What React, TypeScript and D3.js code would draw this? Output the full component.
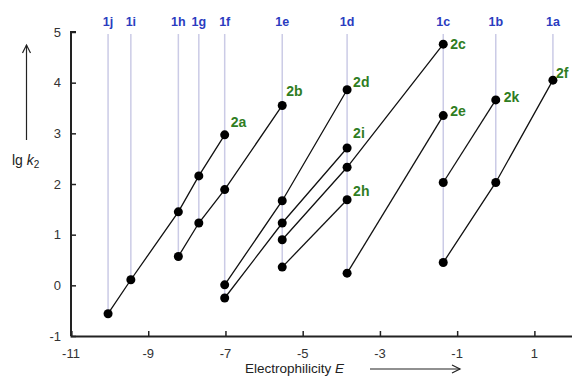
import React, { useRef, useEffect } from "react";
import * as d3 from "d3";

// electrophiles (benzhydrylium ions) and their E parameters
const electrophiles = ["1j", "1i", "1h", "1g", "1f", "1e", "1d", "1c", "1b", "1a"];
const eValues = [-10.04, -9.45, -8.22, -7.69, -7.02, -5.53, -3.85, -1.36, 0.0, 1.48];

// lg k2 for each nucleophile, as [electrophile, lg k2]
const lg2a: [string, number][] = [["1j", -0.56], ["1i", 0.11], ["1h", 1.45], ["1g", 2.16], ["1f", 2.97]];
const lg2b: [string, number][] = [["1h", 0.57], ["1g", 1.23], ["1f", 1.89], ["1e", 3.55]];
const lg2c: [string, number][] = [["1e", 0.9], ["1d", 2.33], ["1c", 4.76]];
const lg2d: [string, number][] = [["1f", 0.01], ["1e", 1.67], ["1d", 3.86]];
const lg2e: [string, number][] = [["1d", 0.24], ["1c", 3.35]];
const lg2f: [string, number][] = [["1c", 0.45], ["1b", 2.03], ["1a", 4.05]];
const lg2h: [string, number][] = [["1e", 0.36], ["1d", 1.69]];
const lg2i: [string, number][] = [["1f", -0.25], ["1e", 1.23], ["1d", 2.71]];
const lg2k: [string, number][] = [["1c", 2.03], ["1b", 3.66]];

const nucleophiles = ["2a", "2b", "2c", "2d", "2e", "2f", "2h", "2i", "2k"];
const seriesValues = [lg2a, lg2b, lg2c, lg2d, lg2e, lg2f, lg2h, lg2i, lg2k];

const xTicks = [-11, -9, -7, -5, -3, -1, 1];
const yTicks = [-1, 0, 1, 2, 3, 4, 5];

function App() {
  const holder = useRef<HTMLDivElement>(null);

  function drawChart() {
    const [width, height] = [572, 376];
    const eOf = (name: string) => eValues[electrophiles.indexOf(name)];

    const x = d3.scaleLinear().domain([-11, 2]).range([71, 573]);
    const y = d3.scaleLinear().domain([-1, 5]).range([336, 32]);

    d3.select(holder.current).selectAll("*").remove();
    const svg = d3
      .select(holder.current)
      .append("svg")
      .attr("width", width)
      .attr("height", height)
      .attr("viewBox", [0, 0, width, height])
      .style("display", "block")
      .style("font-family", "Liberation Sans, Arial, sans-serif");

    // vertical guide lines for each electrophile
    const allPoints = seriesValues.flat();
    const lowest = electrophiles.map((name) =>
      d3.min(allPoints.filter((p) => p[0] === name), (p) => p[1]) as number
    );
    svg
      .append("g")
      .attr("stroke", "#cbcbe6")
      .attr("stroke-width", 1.5)
      .selectAll("line")
      .data(electrophiles)
      .join("line")
      .attr("x1", (_, i) => x(eValues[i]))
      .attr("x2", (_, i) => x(eValues[i]))
      .attr("y1", y(5) + 2)
      .attr("y2", (_, i) => y(lowest[i]));

    svg
      .append("g")
      .attr("fill", "#2a3cc0")
      .attr("font-weight", "bold")
      .attr("font-size", 12.5)
      .attr("text-anchor", "middle")
      .selectAll("text")
      .data(electrophiles)
      .join("text")
      .attr("x", (_, i) => x(eValues[i]))
      .attr("y", 26)
      .text((d) => d);

    // axes
    const gx = svg.append("g").attr("transform", `translate(0,${y(-1)})`);
    gx.call(d3.axisTop(x).tickValues(xTicks).tickSize(5));
    gx.selectAll("text").remove();
    gx.append("g")
      .selectAll("text")
      .data(xTicks)
      .join("text")
      .attr("x", (d) => x(d))
      .attr("y", 22)
      .attr("text-anchor", "middle")
      .attr("font-size", 13)
      .attr("fill", "#333")
      .text((d) => String(d));

    const gy = svg.append("g").attr("transform", `translate(${x(-11)},0)`);
    gy.call(d3.axisRight(y).tickValues(yTicks).tickSize(5));
    gy.selectAll("text").remove();
    gy.append("g")
      .selectAll("text")
      .data(yTicks)
      .join("text")
      .attr("x", -10)
      .attr("y", (d) => y(d) + 4.5)
      .attr("text-anchor", "end")
      .attr("font-size", 13)
      .attr("fill", "#333")
      .text((d) => String(d));

    svg.selectAll(".domain").attr("stroke", "#222").attr("stroke-width", 2);
    svg.selectAll(".tick line").attr("stroke", "#222").attr("stroke-width", 1.5);
    gy.select(".domain").attr("d", `M5,${y(5)}H0V${y(-1)}`);

    // series lines and dots
    const line = d3
      .line<[string, number]>()
      .x((p) => x(eOf(p[0])))
      .y((p) => y(p[1]));

    svg
      .append("g")
      .attr("fill", "none")
      .attr("stroke", "#111")
      .attr("stroke-width", 1.3)
      .selectAll("path")
      .data(seriesValues)
      .join("path")
      .attr("d", (d) => line(d));

    svg
      .append("g")
      .attr("fill", "#000")
      .selectAll("circle")
      .data(allPoints)
      .join("circle")
      .attr("cx", (p) => x(eOf(p[0])))
      .attr("cy", (p) => y(p[1]))
      .attr("r", 4.5);

    // nucleophile labels next to the top point
    const labelShift: Record<string, [number, number]> = {
      "2a": [6, -8], "2b": [4, -9], "2c": [7, 5], "2d": [6, -3], "2e": [7, 0],
      "2f": [3, -2], "2h": [6, -4], "2i": [6, -10], "2k": [8, 2],
    };
    svg
      .append("g")
      .attr("fill", "#2f7d22")
      .attr("font-weight", "bold")
      .attr("font-size", 14)
      .selectAll("text")
      .data(nucleophiles)
      .join("text")
      .attr("x", (d, i) => {
        const top = seriesValues[i][seriesValues[i].length - 1];
        return x(eOf(top[0])) + labelShift[d][0];
      })
      .attr("y", (d, i) => {
        const top = seriesValues[i][seriesValues[i].length - 1];
        return y(top[1]) + labelShift[d][1];
      })
      .text((d) => d);

    // axis titles with arrows
    const xt = svg
      .append("text")
      .attr("x", 245)
      .attr("y", 373)
      .attr("font-size", 13.5)
      .attr("fill", "#222");
    xt.append("tspan").text("Electrophilicity ");
    xt.append("tspan").attr("font-style", "italic").text("E");

    const yt = svg
      .append("text")
      .attr("x", 12)
      .attr("y", 165)
      .attr("font-size", 14)
      .attr("fill", "#222");
    yt.append("tspan").text("lg ");
    yt.append("tspan").attr("font-style", "italic").text("k");
    yt.append("tspan").attr("font-size", 10).attr("dy", 3).text("2");

    const arrows = svg.append("g").attr("stroke", "#222").attr("stroke-width", 1.2).attr("fill", "none");
    arrows.append("line").attr("x1", 370).attr("x2", 460).attr("y1", 369).attr("y2", 369);
    arrows.append("path").attr("d", "M452,365L460,369L452,373");
    arrows.append("line").attr("x1", 26.5).attr("x2", 26.5).attr("y1", 140).attr("y2", 45);
    arrows.append("path").attr("d", "M22.5,53L26.5,45L30.5,53");
  }

  useEffect(() => {
    document.body.style.margin = "0";
    document.body.style.overflow = "hidden";
    drawChart();
  }, []);

  return <div ref={holder} />;
}

export default App;
